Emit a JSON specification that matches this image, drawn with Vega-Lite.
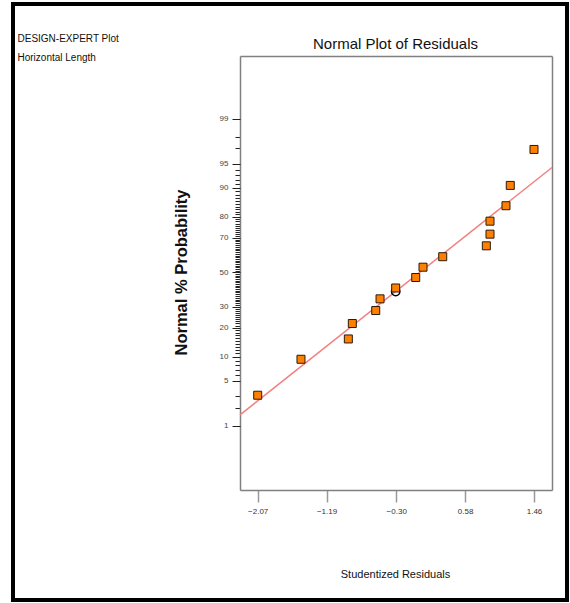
{
  "$schema": "https://vega.github.io/schema/vega-lite/v6.json",
  "width": 554,
  "height": 596,
  "autosize": {"type": "none"},
  "padding": {"left": 13, "top": 4, "right": 3, "bottom": 3},
  "background": "white",
  "config": {
    "view": {"stroke": "black", "strokeWidth": 4},
    "axis": {"grid": false}
  },
  "datasets": {
    "residuals": [
      {"run": 1, "residual": -2.07, "z": -1.863},
      {"run": 2, "residual": -1.517, "z": -1.318},
      {"run": 3, "residual": -0.912, "z": -1.010},
      {"run": 4, "residual": -0.861, "z": -0.776},
      {"run": 5, "residual": -0.562, "z": -0.579},
      {"run": 6, "residual": -0.507, "z": -0.402},
      {"run": 7, "residual": -0.307, "z": -0.237},
      {"run": 8, "residual": -0.051, "z": -0.078},
      {"run": 9, "residual": 0.042, "z": 0.078},
      {"run": 10, "residual": 0.294, "z": 0.237},
      {"run": 11, "residual": 0.851, "z": 0.402},
      {"run": 12, "residual": 0.898, "z": 0.579},
      {"run": 13, "residual": 0.898, "z": 0.776},
      {"run": 14, "residual": 1.102, "z": 1.010},
      {"run": 15, "residual": 1.157, "z": 1.318},
      {"run": 16, "residual": 1.46, "z": 1.863}
    ],
    "fit": [
      {"residual": -2.296, "z": -2.161},
      {"residual": 1.69, "z": 1.590}
    ],
    "flag": [
      {"residual": -0.307, "z": -0.29}
    ]
  },
  "resolve": {"axis": {"x": "independent", "y": "independent"}},
  "layer": [
    {
      "data": {"name": "fit"},
      "mark": {"type": "line", "color": "#f28080", "strokeWidth": 1.5},
      "encoding": {
        "x": {
          "field": "residual", "type": "quantitative",
          "scale": {"domain": [-2.296, 1.69], "range": [227, 539], "nice": false, "zero": false},
          "axis": {
            "orient": "bottom", "offset": -110,
            "values": [-2.07, -1.19, -0.3, 0.58, 1.46], "format": ".2f", "tickCount": 100,
            "domainColor": "#808080", "domainWidth": 1.5,
            "tickColor": "#999999", "tickSize": 12, "tickWidth": 1.5,
            "labelFont": "Liberation Sans, Arial, sans-serif",
            "labelFontSize": 8, "labelColor": "#333333", "labelPadding": 5,
            "labelFlush": false, "labelOverlap": false,
            "title": "Studentized Residuals",
            "titleFont": "Liberation Sans, Arial, sans-serif",
            "titleFontSize": 11, "titleFontWeight": "normal", "titleColor": "#111111",
            "titleX": 382, "titleY": 84, "titleAlign": "center", "titleBaseline": "middle", "titleAngle": 0
          }
        },
        "y": {
          "field": "z", "type": "quantitative",
          "scale": {"domain": [-3.3, 3.28], "range": [486, 52], "nice": false, "zero": false},
          "axis": {
            "orient": "left", "offset": -227, "tickCount": 1000,
            "values": [-2.3263, -2.0537, -1.8808, -1.6449, -1.5548, -1.4758, -1.4051, -1.3408, -1.2816, -1.2265, -1.1750, -1.1264, -1.0803, -1.0364, -0.9945, -0.9542, -0.9154, -0.8779, -0.8416, -0.8064, -0.7722, -0.7388, -0.7063, -0.6745, -0.6433, -0.6128, -0.5828, -0.5534, -0.5244, -0.4959, -0.4677, -0.4399, -0.4125, -0.3853, -0.3585, -0.3319, -0.3055, -0.2793, -0.2533, -0.2275, -0.2019, -0.1764, -0.1510, -0.1257, -0.1004, -0.0753, -0.0502, -0.0251, 0, 0.0251, 0.0502, 0.0753, 0.1004, 0.1257, 0.1510, 0.1764, 0.2019, 0.2275, 0.2533, 0.2793, 0.3055, 0.3319, 0.3585, 0.3853, 0.4125, 0.4399, 0.4677, 0.4959, 0.5244, 0.5534, 0.5828, 0.6128, 0.6433, 0.6745, 0.7063, 0.7388, 0.7722, 0.8064, 0.8416, 0.8779, 0.9154, 0.9542, 0.9945, 1.0364, 1.0803, 1.1264, 1.1750, 1.2265, 1.2816, 1.3408, 1.4051, 1.4758, 1.5548, 1.6449, 1.8808, 2.0537, 2.3263],
            "labelExpr": "indexof([1,5,10,20,30,50,70,80,90,95,99], round(cumulativeNormal(datum.value)*100)) >= 0 ? '' + round(cumulativeNormal(datum.value)*100) : ''",
            "domainColor": "#808080", "domainWidth": 1.5,
            "tickColor": "#222222", "tickWidth": 1, "tickSize": 5,
            "labelFont": "Liberation Sans, Arial, sans-serif",
            "labelFontSize": 8, "labelColor": "#444444", "labelPadding": 7,
            "labelFlush": false, "labelOverlap": false, "labelBound": false,
            "title": "Normal % Probability",
            "titleFont": "Liberation Sans, Arial, sans-serif",
            "titleFontSize": 16.5, "titleFontWeight": "bold", "titleColor": "#111111",
            "titleX": -59, "titleY": 268, "titleAngle": -90, "titleAlign": "center", "titleBaseline": "middle"
          }
        }
      }
    },
    {
      "data": {"name": "flag"},
      "mark": {"type": "point", "shape": "circle", "filled": false, "stroke": "black", "strokeWidth": 1.5, "size": 70, "opacity": 1},
      "encoding": {
        "x": {"field": "residual", "type": "quantitative", "axis": null},
        "y": {
          "field": "z", "type": "quantitative",
          "axis": {
            "orient": "left", "offset": -227, "tickCount": 100,
            "values": [-2.3263, -1.6449, -1.2816, -0.8416, -0.5244, 0, 0.5244, 0.8416, 1.2816, 1.6449, 2.3263],
            "domain": false, "labels": false, "title": null,
            "tickColor": "#222222", "tickWidth": 1, "tickSize": 8
          }
        }
      }
    },
    {
      "data": {"name": "residuals"},
      "mark": {"type": "point", "shape": "square", "filled": true, "fill": "#ff8000", "stroke": "#2a1a0a", "strokeWidth": 1, "size": 64, "opacity": 1},
      "encoding": {
        "x": {
          "field": "residual", "type": "quantitative",
          "axis": {
            "orient": "top", "offset": -52,
            "ticks": false, "labels": false,
            "domainColor": "#808080", "domainWidth": 1.5,
            "title": "Normal Plot of Residuals",
            "titleFont": "Liberation Sans, Arial, sans-serif",
            "titleFontSize": 15, "titleFontWeight": "normal", "titleColor": "#111111",
            "titleX": 382, "titleY": -13, "titleAlign": "center", "titleBaseline": "middle", "titleAngle": 0
          }
        },
        "y": {
          "field": "z", "type": "quantitative",
          "axis": {
            "orient": "right", "offset": -15,
            "ticks": false, "labels": false,
            "domainColor": "#808080", "domainWidth": 1.5,
            "title": ["DESIGN-EXPERT Plot", "Horizontal Length"],
            "titleFont": "Liberation Sans, Arial, sans-serif",
            "titleFontSize": 10, "titleFontWeight": "normal", "titleColor": "#111111",
            "titleLineHeight": 19,
            "titleX": -535, "titleY": 29, "titleAlign": "left", "titleBaseline": "top", "titleAngle": 0
          }
        }
      }
    }
  ]
}
